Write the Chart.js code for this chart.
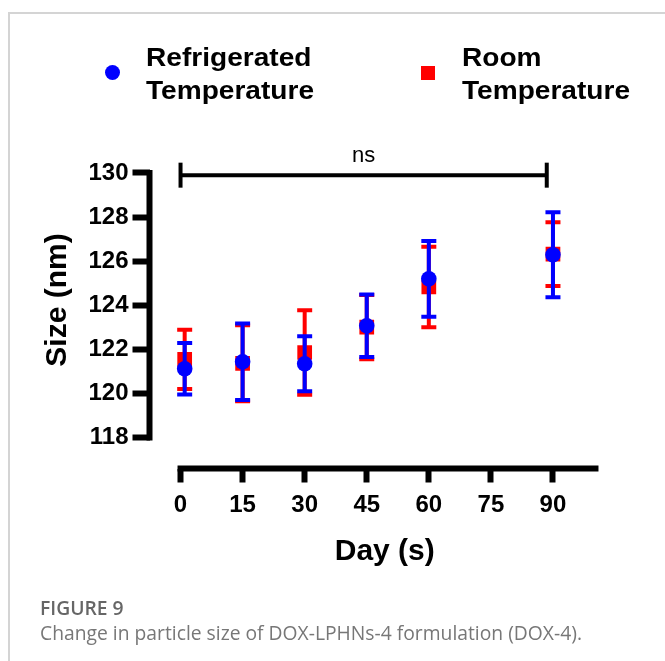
<!DOCTYPE html>
<html>
<head>
<meta charset="utf-8">
<script src="https://cdn.jsdelivr.net/npm/chart.js"></script>
<style>
    body { margin: 0; background: #fff; }
    #wrap { position: relative; width: 665px; height: 661px; overflow: hidden; }
    #frame { position: absolute; left: 8px; top: 12px; right: -10px; bottom: -10px; border-top: 2px solid #d4d4d4; border-left: 2px solid #d4d4d4; }
    canvas { position: absolute; left: 0; top: 0; }
    .leg { position: absolute; font: bold 26px "Liberation Sans", Arial, sans-serif; line-height: 33px; color: #000; transform: scaleX(1.08); transform-origin: 0 0; white-space: nowrap; }
    .dot { position: absolute; width: 15px; height: 15px; border-radius: 50%; background: #0000ff; }
    .sq { position: absolute; width: 14px; height: 14px; background: #ff0000; }
    .cap { position: absolute; left: 40px; font-family: "Open Sans", sans-serif; font-size: 19.3px; line-height: 25px; white-space: nowrap; }
</style>
</head>
<body>
<div id="wrap">
    <div id="frame"></div>
    <canvas id="c" width="665" height="661"></canvas>
    <div class="dot" style="left:105px;top:65px"></div>
    <div class="leg" style="left:146px;top:41px">Refrigerated<br>Temperature</div>
    <div class="sq" style="left:421px;top:66px"></div>
    <div class="leg" style="left:462px;top:41px">Room<br>Temperature</div>
    <div class="cap" style="top:595px;color:#666;font-weight:600">FIGURE 9</div>
    <div class="cap" style="top:620px;color:#777">Change in particle size of DOX-LPHNs-4 formulation (DOX-4).</div>
</div>
<script>
// 測定日（Day 0 の点は目盛りより少し右に打たれている）
const days = [1, 15, 30, 45, 60, 90];
const refrigMean = [121.12, 121.44, 121.35, 123.07, 125.20, 126.29];
const refrigSD = [1.17, 1.73, 1.25, 1.42, 1.72, 1.93];
const roomMean = [121.55, 121.37, 121.86, 123.01, 124.83, 126.32];
const roomSD = [1.34, 1.72, 1.92, 1.46, 1.82, 1.44];
const xTicks = [0, 15, 30, 45, 60, 75, 90];
const yTicks = [118, 120, 122, 124, 126, 128, 130];
const bracketDays = [0, 88.5];
const bracketY = 129.9;
const bracketLabel = 'ns';

const FONT = '"Liberation Sans", Arial, sans-serif';

const pts = (xs, ys) => xs.map((x, i) => ({ x, y: ys[i] }));

// GraphPad風に x軸・y軸を離して描く
const axisLines = {
    id: 'axisLines',
    beforeDatasetsDraw(chart) {
        const { ctx, chartArea, scales: { x, y } } = chart;
        ctx.save();
        ctx.strokeStyle = '#000';
        ctx.lineWidth = 6;
        ctx.beginPath();
        ctx.moveTo(chartArea.left, y.getPixelForValue(yTicks[yTicks.length - 1]) - 3);
        ctx.lineTo(chartArea.left, y.getPixelForValue(yTicks[0]) + 3);
        ctx.moveTo(x.getPixelForValue(xTicks[0]) - 3, chartArea.bottom);
        ctx.lineTo(x.getPixelForValue(101), chartArea.bottom);
        ctx.stroke();
        ctx.restore();
    },
    afterDatasetsDraw(chart) {
        const { ctx, scales: { x, y } } = chart;
        ctx.save();
        ctx.fillStyle = '#000';
        ctx.font = '22px ' + FONT;
        ctx.textAlign = 'center';
        ctx.textBaseline = 'bottom';
        ctx.fillText(bracketLabel, x.getPixelForValue((bracketDays[0] + bracketDays[1]) / 2), y.getPixelForValue(bracketY) - 8);
        ctx.restore();
    }
};

// 平均±SD のエラーバーを各データセットの点の直前に描く
const errorBars = {
    id: 'errorBars',
    beforeDatasetDraw(chart, args) {
        const ds = chart.data.datasets[args.index];
        if (!ds.sd) return;
        const { ctx, scales: { x, y } } = chart;
        ctx.save();
        ctx.strokeStyle = ds.backgroundColor;
        ctx.lineWidth = 4;
        ds.data.forEach((p, i) => {
            const px = x.getPixelForValue(p.x);
            const top = y.getPixelForValue(p.y + ds.sd[i]);
            const bot = y.getPixelForValue(p.y - ds.sd[i]);
            ctx.beginPath();
            ctx.moveTo(px, top); ctx.lineTo(px, bot);
            ctx.moveTo(px - 7.5, top); ctx.lineTo(px + 7.5, top);
            ctx.moveTo(px - 7.5, bot); ctx.lineTo(px + 7.5, bot);
            ctx.stroke();
        });
        ctx.restore();
    }
};

const tickFont = { family: FONT, size: 24, weight: 'bold' };
const titleFont = { family: FONT, size: 30, weight: 'bold' };

new Chart(document.getElementById('c'), {
    type: 'scatter',
    data: {
        datasets: [
            {
                label: 'Refrigerated Temperature', data: pts(days, refrigMean), sd: refrigSD,
                backgroundColor: '#0000ff', borderColor: '#0000ff',
                pointStyle: 'circle', pointRadius: 7.8, pointBorderWidth: 0
            },
            {
                label: 'Room Temperature', data: pts(days, roomMean), sd: roomSD,
                backgroundColor: '#ff0000', borderColor: '#ff0000',
                pointStyle: 'rect', pointRadius: 10.4, pointBorderWidth: 0
            },
            {
                type: 'line', label: bracketLabel, data: pts(bracketDays, [bracketY, bracketY]),
                borderColor: '#000', borderWidth: 4, showLine: true,
                pointStyle: 'line', pointRotation: 90, pointRadius: 12.5,
                pointBorderWidth: 4, pointBorderColor: '#000', clip: false
            }
        ]
    },
    options: {
        responsive: false,
        animation: false,
        devicePixelRatio: 1,
        layout: { padding: { left: 0, top: 131.5, right: 45, bottom: 91 } },
        plugins: { legend: { display: false }, tooltip: { enabled: false } },
        scales: {
            x: {
                type: 'linear', min: -7.5, max: 106.2,
                afterBuildTicks: s => { s.ticks = xTicks.map(v => ({ value: v })); },
                afterFit: s => { s.height = 101.5; },
                border: { display: false },
                grid: { drawOnChartArea: false, tickLength: 14, tickWidth: 6, tickColor: '#000', color: '#000' },
                ticks: { font: tickFont, color: '#000', padding: 8, maxRotation: 0 },
                title: { display: true, text: 'Day (s)', font: titleFont, color: '#000', padding: 0 }
            },
            y: {
                min: 116.6, max: 131.88,
                afterBuildTicks: s => { s.ticks = yTicks.map(v => ({ value: v })); },
                afterFit: s => { s.width = 149.5; },
                border: { display: false },
                grid: { drawOnChartArea: false, tickLength: 17, tickWidth: 6, tickColor: '#000', color: '#000' },
                ticks: { font: tickFont, color: '#000', padding: 4 },
                title: { display: true, text: 'Size (nm)', font: titleFont, color: '#000', padding: { top: 40, bottom: 0 } }
            }
        }
    },
    plugins: [axisLines, errorBars]
});
</script>
</body>
</html>
